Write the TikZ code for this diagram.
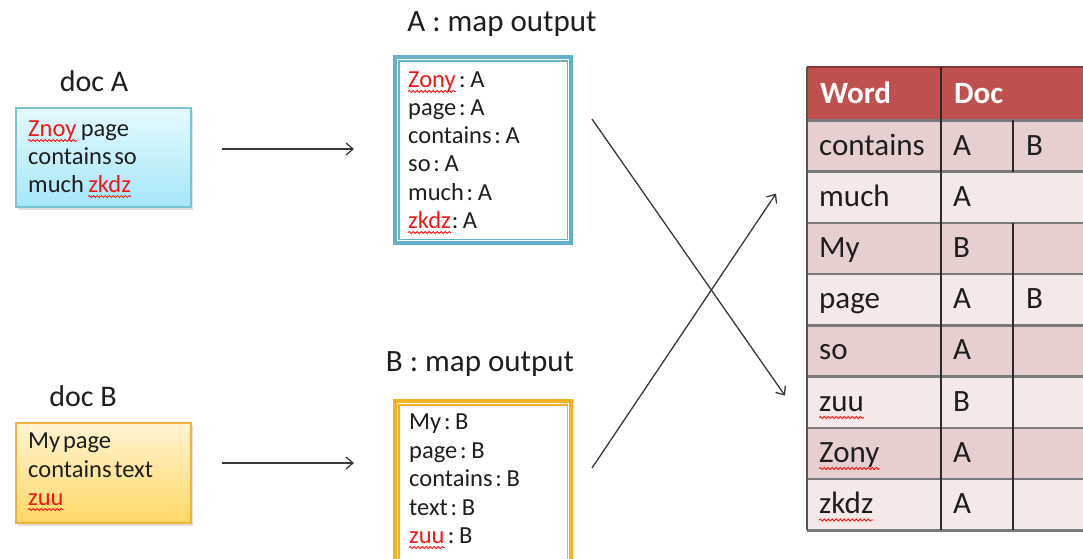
\documentclass[tikz,border=0pt]{standalone}
\usepackage{fontspec}
\setmainfont{Carlito}
\newfontfamily\tightfont{Carlito}[WordSpace=0.5]
\usetikzlibrary{arrows.meta,shadows,decorations.pathmorphing}

\definecolor{ink}{HTML}{1E1E1E}
\definecolor{wordred}{HTML}{F21818}
\definecolor{squig}{HTML}{FF1010}
\definecolor{arrowc}{HTML}{383838}
\definecolor{docAtop}{HTML}{E4FAFF}
\definecolor{docAbot}{HTML}{A6E6F8}
\definecolor{docAline}{HTML}{7CC2D6}
\definecolor{docBtop}{HTML}{FFF3D2}
\definecolor{docBbot}{HTML}{FFD866}
\definecolor{docBline}{HTML}{F0B23A}
\definecolor{mapAline}{HTML}{62B1C8}
\definecolor{mapBline}{HTML}{F4B223}
\definecolor{headfill}{HTML}{C0504D}
\definecolor{rowA}{HTML}{E8CFCF}
\definecolor{rowB}{HTML}{F4E8E8}
\definecolor{gridgray}{HTML}{7A7A7A}
\definecolor{griddark}{HTML}{2A2A2A}

\begin{document}
\begin{tikzpicture}[x=1pt,y=-1pt,
  lbl/.style={inner sep=0pt, anchor=base, text=ink, font=\fontsize{31}{37}\selectfont},
  doclbl/.style={lbl, font=\fontsize{30}{36}\selectfont},
  ln/.style={inner sep=0pt, anchor=base west, text=ink, font=\tightfont\fontsize{24.5}{29}\selectfont},
  redln/.style={ln, text=wordred},
  cell/.style={inner sep=0pt, anchor=base west, text=ink, font=\fontsize{31}{37}\selectfont},
  headtxt/.style={inner sep=0pt, anchor=base west, text=white, font=\bfseries\fontsize{31}{37}\selectfont},
  docbox/.style={draw, line width=1.2pt, inner sep=0pt, minimum width=175pt,
    drop shadow={opacity=0.25, shadow xshift=2pt, shadow yshift=-3pt}},
  mapbox/.style={draw, line width=6.5pt, fill=white, inner sep=0pt, minimum width=173.5pt},
  mapstripe/.style={draw=white, line width=1pt},
  arr/.style={draw=arrowc, line width=1.3pt, -{Straight Barb[length=7pt,width=12pt]}},
  tabrow/.style={inner sep=0pt, anchor=north west, minimum width=290pt, minimum height=51.25pt},
  rowline/.style={draw=gridgray, line width=2.6pt},
  colline/.style={draw=griddark, line width=1.8pt},
  squiggle/.style={draw=squig, line width=0.8pt,
    decorate, decoration={snake, amplitude=1pt, segment length=4pt}}
]
\clip (0,0) rectangle (1083,558);

% ---------- documents ----------
\node[doclbl] (labA) at (94,91) {doc A};
\node[docbox, draw=docAline, top color=docAtop, bottom color=docAbot,
      minimum height=99pt] (boxA) at (103.5,157.5) {};
\node[redln] (a1w) at (28,136) {Znoy};
\node[ln] (a1) at ([xshift=4pt]a1w.base east) {page};
\node[ln] (a2) at (28,164) {contains so};
\node[ln] (a3) at (28,192) {much};
\node[redln] (a3w) at ([xshift=4pt]a3.base east) {zkdz};

\node[doclbl] (labB) at (83,406) {doc B};
\node[docbox, draw=docBline, top color=docBtop, bottom color=docBbot,
      minimum height=100pt] (boxB) at (103.5,473) {};
\node[ln] (b1) at (28,448) {My page};
\node[ln] (b2) at (28,477) {contains text};
\node[redln] (b3w) at (28,505) {zuu};

% ---------- map outputs ----------
\node[lbl] (labMA) at (502,31) {A : map output};
\node[mapbox, draw=mapAline, minimum height=183.5pt] (mapA) at (483,150) {};
\draw[mapstripe] ([xshift=4.4pt,yshift=-4.4pt]mapA.north west)
  rectangle ([xshift=-4.4pt,yshift=4.4pt]mapA.south east);
\node[redln] (p1w) at (408,87) {Zony};
\node[ln] (p1) at ([xshift=3pt]p1w.base east) {: A};
\node[ln] (p2) at (408,115) {page : A};
\node[ln] (p3) at (408,143) {contains : A};
\node[ln] (p4) at (408,171) {so : A};
\node[ln] (p5) at (408,200) {much : A};
\node[redln] (p6w) at (408,228) {zkdz};
\node[ln] (p6) at ([xshift=0.5pt]p6w.base east) {: A};

\node[lbl] (labMB) at (480,371) {B : map output};
\node[mapbox, draw=mapBline, minimum height=167.5pt] (mapB) at (483,486) {};
\draw[mapstripe] ([xshift=4.4pt,yshift=-4.4pt]mapB.north west)
  rectangle ([xshift=-4.4pt,yshift=4.4pt]mapB.south east);
\node[ln] (q1) at (409,429) {My : B};
\node[ln] (q2) at (409,458) {page : B};
\node[ln] (q3) at (409,486) {contains : B};
\node[ln] (q4) at (409,515) {text : B};
\node[redln] (q5w) at (409,543) {zuu};
\node[ln] (q5) at ([xshift=3pt]q5w.base east) {: B};

% spelling marks under the unknown words
\foreach \w in {a1w,a3w,b3w,p1w,p6w,q5w}
  \draw[squiggle] ([yshift=-4.5pt]\w.base west) -- ([yshift=-4.5pt]\w.base east);

% ---------- inverted index table ----------
\node[tabrow, fill=headfill, minimum height=53pt] (hdr) at (807,67) {};
\node[tabrow, fill=rowA] (r1) at (807,120)    {};
\node[tabrow, fill=rowB] (r2) at (807,171.25) {};
\node[tabrow, fill=rowA] (r3) at (807,222.5)  {};
\node[tabrow, fill=rowB] (r4) at (807,273.75) {};
\node[tabrow, fill=rowA] (r5) at (807,325)    {};
\node[tabrow, fill=rowB] (r6) at (807,376.25) {};
\node[tabrow, fill=rowA] (r7) at (807,427.5)  {};
\node[tabrow, fill=rowB] (r8) at (807,478.75) {};

\foreach \r in {hdr,r1,r2,r3,r4,r5,r6,r7,r8}
  \draw[rowline] (\r.south west) -- (\r.south east);
\draw[draw=headfill!70!black, line width=1.2pt] (hdr.north west) -- (hdr.north east);
\draw[draw=gridgray!70!black, line width=2pt] (hdr.north west) -- (r8.south west);
\draw[colline] ([xshift=134pt]hdr.north west) -- ([xshift=134pt]r8.south west);
\draw[colline] ([xshift=206pt]r1.north west) -- ([xshift=206pt]r1.south west);
\draw[colline] ([xshift=206pt]r3.north west) -- ([xshift=206pt]r8.south west);

\node[headtxt] (hw) at (820,103) {Word};
\node[headtxt] (hd) at (954,103) {Doc};

\node[cell] (w1) at (819,155) {contains};
\node[cell] (w2) at (819,206) {much};
\node[cell] (w3) at (819,257) {My};
\node[cell] (w4) at (819,308.5) {page};
\node[cell] (w5) at (819,359.5) {so};
\node[cell] (w6) at (819,411) {zuu};
\node[cell] (w7) at (819,462) {Zony};
\node[cell] (w8) at (819,513.5) {zkdz};
\foreach \w in {w6,w7,w8}
  \draw[squiggle] ([yshift=-6.5pt]\w.base west) -- ([yshift=-6.5pt]\w.base east);

\node[cell] (d1a) at (953,155)   {A};
\node[cell] (d1b) at (1026,155)  {B};
\node[cell] (d2a) at (953,206)   {A};
\node[cell] (d3a) at (953,257)   {B};
\node[cell] (d4a) at (953,308.5) {A};
\node[cell] (d4b) at (1026,308.5){B};
\node[cell] (d5a) at (953,359.5) {A};
\node[cell] (d6a) at (953,411)   {B};
\node[cell] (d7a) at (953,462)   {A};
\node[cell] (d8a) at (953,513.5) {A};

% ---------- connectors ----------
\draw[arr, shorten <=30pt, shorten >=39pt]
  ([yshift=8.5pt]boxA.east) -- ([yshift=8.5pt]boxA.east -| mapA.west);
\draw[arr, shorten <=30pt, shorten >=39pt]
  ([yshift=10pt]boxB.east) -- ([yshift=10pt]boxB.east -| mapB.west);

\draw[arr] ([xshift=19pt,yshift=31pt]mapA.east) -- ([xshift=-22pt,yshift=6.5pt]r6.west);
\draw[arr] ([xshift=19pt,yshift=18pt]mapB.east) -- ([xshift=-31pt,yshift=3.5pt]r2.west);
\end{tikzpicture}
\end{document}
